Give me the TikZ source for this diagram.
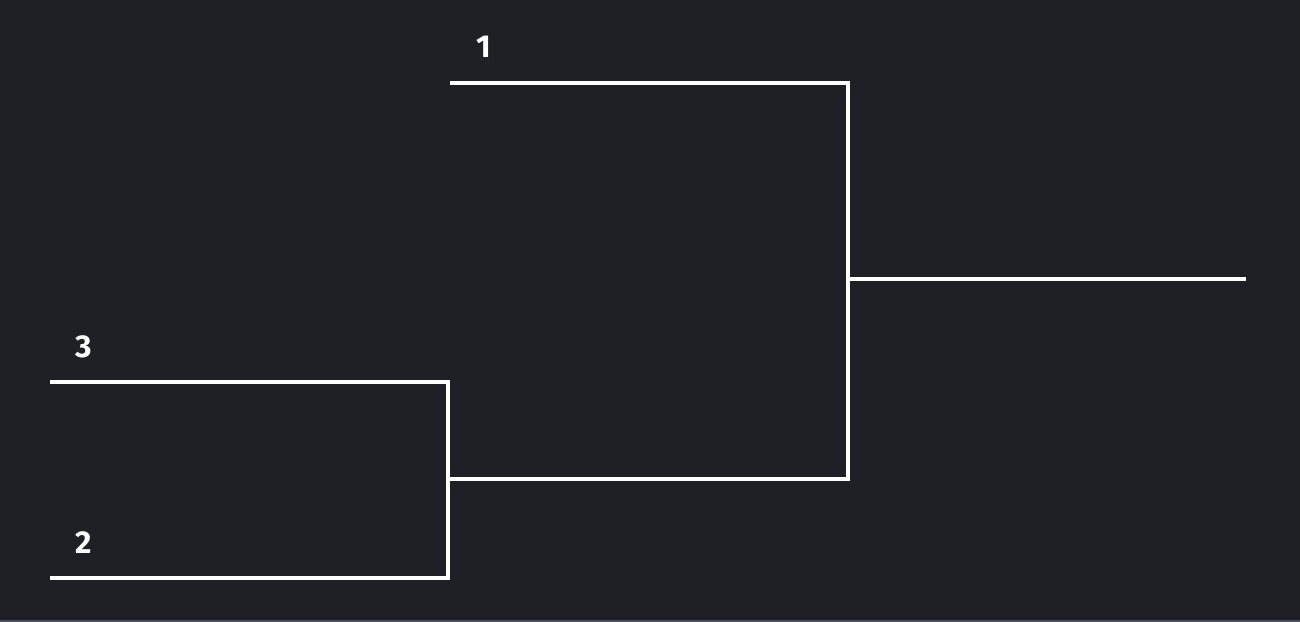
\documentclass[tikz,border=0pt]{standalone}
\usepackage{fontspec}
\setmainfont{Fira Sans}
\definecolor{bgdark}{HTML}{1F2025}
\definecolor{edgegrey}{HTML}{4A4D5C}
\tikzset{
    bracket-line/.style = {draw=white, line width=1.2pt},
    seed-label/.style = {text=white, font=\fontsize{9pt}{11pt}\selectfont\bfseries, anchor=base west, inner sep=0pt},
}

\begin{document}
\begin{tikzpicture}[x=0.01cm, y=-0.01cm]
\useasboundingbox (0,0) rectangle (1300,622);
\fill[bgdark] (-10,-10) rectangle (1310,632);
\draw[edgegrey, line width=0.5pt] (-10,621) -- (1310,621);

% first round
\coordinate (s3) at (50,382);
\coordinate (s2) at (50,578);
\coordinate (q1top) at (448,382);
\coordinate (q1bot) at (448,578);
\coordinate (q1mid) at (448,479);

% second round
\coordinate (s1) at (450,83);
\coordinate (r1top) at (848,83);
\coordinate (r1bot) at (848,479);
\coordinate (r1mid) at (848,279);
\coordinate (champ) at (1246,279);

\node[seed-label] (l3) at (75,358) {3};
\node[seed-label] (l2) at (75,554) {2};
\node[seed-label] (l1) at (476,58) {1};

\draw[bracket-line] (s3) -- (q1top) -- (q1bot) -- (s2);
\draw[bracket-line] (s1) -- (r1top) -- (r1bot) -- (q1mid);
\draw[bracket-line] (r1mid) -- (champ);
\end{tikzpicture}
\end{document}
